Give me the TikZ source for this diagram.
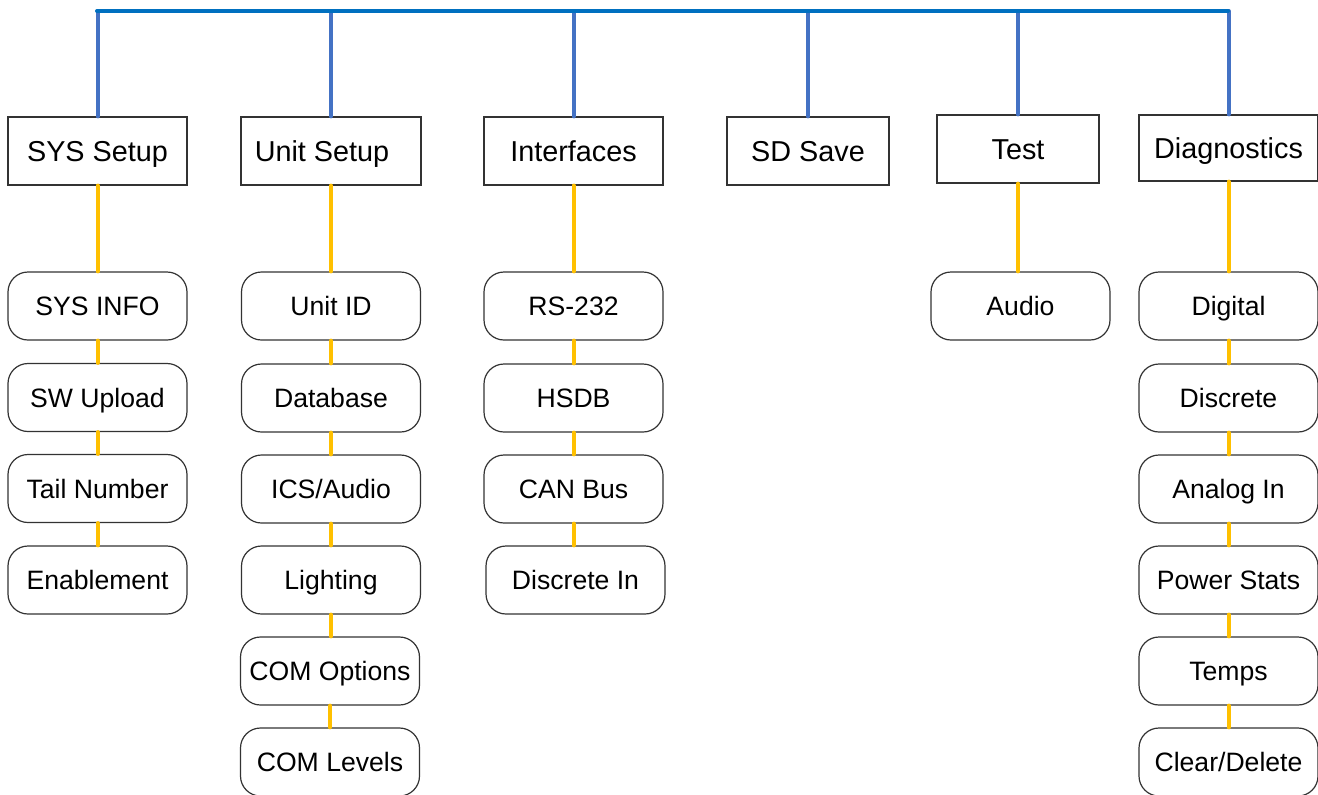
\documentclass[tikz,border=0pt]{standalone}
\usepackage{fontspec}
\setmainfont{Liberation Sans}
\usetikzlibrary{positioning}

\definecolor{busblue}{RGB}{0,112,192}
\definecolor{stemblue}{RGB}{68,114,196}
\definecolor{linkyellow}{RGB}{255,192,0}

\tikzset{
    menu/.style={draw=black!80, line width=0.6pt, fill=white, rectangle,
        minimum width=89.5pt, minimum height=34pt, inner sep=0pt,
        text height=10.3pt, text depth=0pt,
        font=\fontsize{14.4}{17}\selectfont},
    item/.style={draw=black!80, line width=0.6pt, fill=white, rectangle, rounded corners=10pt,
        minimum width=89.5pt, minimum height=34pt, inner sep=0pt,
        text height=9.5pt, text depth=0pt,
        font=\fontsize{13.3}{16}\selectfont},
    bus/.style={busblue, line width=2pt},
    stem/.style={stemblue, line width=2pt},
    link/.style={linkyellow, line width=2pt},
}

\begin{document}
\begin{tikzpicture}[x=0.5pt, y=-0.5pt, line cap=round]
    \useasboundingbox (0,0) rectangle (1318,794);

    % top row
    \node[menu] (sys) at (97.5,151) {SYS Setup};
    \node[menu, minimum width=90pt] (unit) at (331,151) {Unit Setup\kern9pt};
    \node[menu] (intf) at (573.5,151) {Interfaces};
    \node[menu, minimum width=81pt] (sd) at (808,151) {SD Save};
    \node[menu, minimum width=81pt] (test) at (1018,149) {Test};
    \node[menu, minimum height=33pt] (diag) at (1228.5,148) {Diagnostics};

    % SYS Setup
    \node[item] (sysinfo) at (97.5,306) {SYS INFO};
    \node[item] (swup) at (97.5,397.5) {SW Upload};
    \node[item] (tail) at (97.5,488.5) {Tail Number};
    \node[item] (enable) at (97.5,580) {Enablement};

    % Unit Setup
    \node[item] (unitid) at (331,306) {Unit ID};
    \node[item] (dbase) at (331,398) {Database};
    \node[item] (ics) at (331,489) {ICS/Audio};
    \node[item] (light) at (331,580) {Lighting};
    \node[item] (comopt) at (330,671) {COM Options};
    \node[item] (comlvl) at (330,762) {COM Levels};

    % Interfaces
    \node[item] (rs) at (573.5,306) {RS-232};
    \node[item] (hsdb) at (573.5,398) {HSDB};
    \node[item] (can) at (573.5,489) {CAN Bus};
    \node[item] (discin) at (575.5,580) {Discrete In};

    % Test
    \node[item] (audio) at (1020.5,306) {Audio};

    % Diagnostics
    \node[item] (digital) at (1228.5,306) {Digital};
    \node[item] (discrete) at (1228.5,398) {Discrete};
    \node[item] (analog) at (1228.5,489) {Analog In};
    \node[item] (power) at (1228.5,580) {Power Stats};
    \node[item] (temps) at (1228.5,671) {Temps};
    \node[item] (clear) at (1228.5,762) {Clear/Delete};

    % bus along the top
    \coordinate (busL) at (97,11);
    \coordinate (busR) at (1228,11);
    \foreach \m in {sys, unit, intf, sd, test, diag}
        \draw[stem] (\m.north) -- (\m.north |- busL);
    \draw[bus] (busL) -- (busR);

    % yellow links
    \foreach \a/\b in {sys/sysinfo, sysinfo/swup, swup/tail, tail/enable,
                       unit/unitid, unitid/dbase, dbase/ics, ics/light, light/comopt, comopt/comlvl,
                       intf/rs, rs/hsdb, hsdb/can, can/discin,
                       test/audio,
                       diag/digital, digital/discrete, discrete/analog, analog/power, power/temps, temps/clear}
        \draw[link] (\a.south) -- (\a.south |- \b.north);
\end{tikzpicture}
\end{document}
